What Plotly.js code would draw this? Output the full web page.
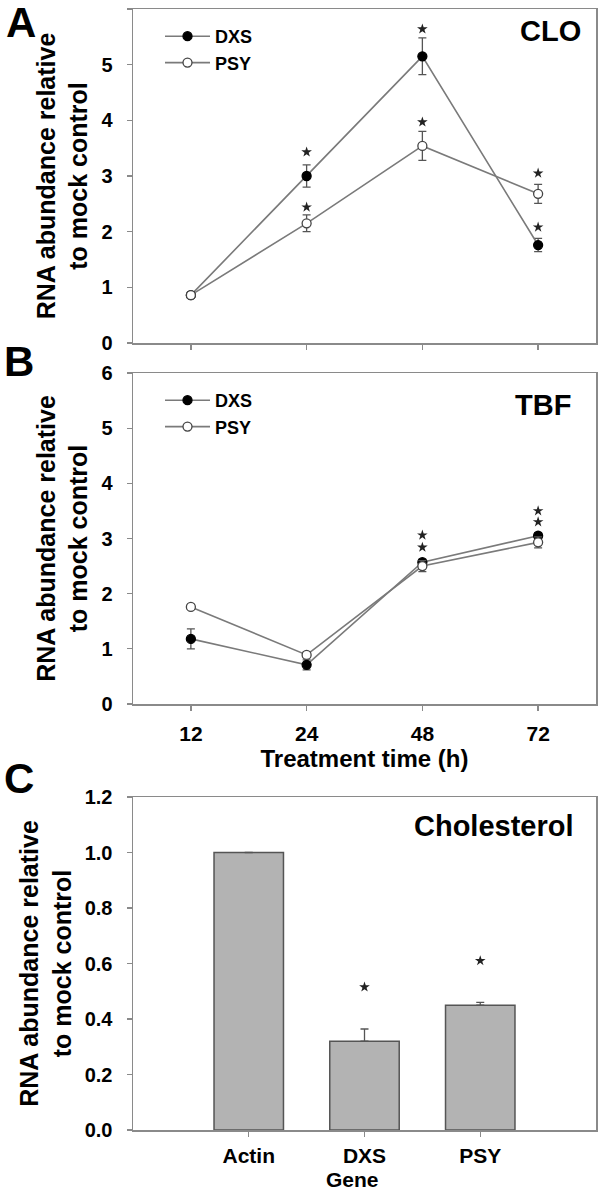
<!DOCTYPE html>
<html>
<head>
<meta charset="utf-8">
<script src="https://cdn.plot.ly/plotly-3.0.1.min.js"></script>
<style>html,body{margin:0;padding:0;background:#fff;}#chart{width:600px;height:1192px;}</style>
</head>
<body>
<div id="chart"></div>
<script>
// ---- data ----
const hours = ['12', '24', '48', '72'];

// Panel A (CLO)
const dxsA = [0.86, 3.00, 5.15, 1.76];
const dxsAErr = [0.05, 0.20, 0.33, 0.12];
const psyA = [0.86, 2.15, 3.54, 2.68];
const psyAErr = [0.05, 0.15, 0.26, 0.17];
const starsAx = ['24', '24', '48', '48', '72', '72'];
const starsAy = [3.43, 2.44, 5.64, 3.97, 3.05, 2.08];

// Panel B (TBF)
const dxsB = [1.18, 0.71, 2.57, 3.05];
const dxsBErr = [0.18, 0.09, 0.05, 0.05];
const psyB = [1.76, 0.89, 2.50, 2.93];
const psyBErr = [0.04, 0.05, 0.10, 0.10];
const starsBx = ['48', '48', '72', '72'];
const starsBy = [3.06, 2.84, 3.50, 3.30];

// Panel C (Cholesterol)
const genes = ['Actin', 'DXS', 'PSY'];
const cholVals = [1.00, 0.32, 0.45];
const cholErr = [null, 0.044, 0.01];
const starsCx = ['DXS', 'PSY'];
const starsCy = [0.515, 0.61];

// ---- styles ----
const FAM = 'Liberation Sans, Arial, Helvetica, sans-serif';
const LINEC = '#7a7a7a';
const AXC = '#8a8a8a';
const ERRC = '#555555';

function series(x, y, err, name, filled, xa, ya, leg) {
  return {
    x: x, y: y, type: 'scatter', mode: 'lines+markers', name: name,
    xaxis: xa, yaxis: ya, legend: leg, legendgroup: leg + name,
    line: {color: LINEC, width: 1.6},
    marker: {size: 9, color: filled ? '#000000' : '#ffffff',
             line: {color: filled ? '#000000' : '#444444', width: 1.3}},
    error_y: {type: 'data', array: err, visible: true, color: ERRC, thickness: 1.3, width: 4}
  };
}
function stars(x, y, xa, ya) {
  return {x: x, y: y, type: 'scatter', mode: 'markers', xaxis: xa, yaxis: ya, showlegend: false,
          marker: {symbol: 'star', size: 8, color: '#222222'}, hoverinfo: 'skip'};
}

const traces = [
  series(hours, dxsA, dxsAErr, 'DXS', true, 'x', 'y', 'legend'),
  series(hours, psyA, psyAErr, 'PSY', false, 'x', 'y', 'legend'),
  stars(starsAx, starsAy, 'x', 'y'),
  series(hours, dxsB, dxsBErr, 'DXS', true, 'x2', 'y2', 'legend2'),
  series(hours, psyB, psyBErr, 'PSY', false, 'x2', 'y2', 'legend2'),
  stars(starsBx, starsBy, 'x2', 'y2'),
  {x: genes, y: cholVals, type: 'bar', xaxis: 'x3', yaxis: 'y3', showlegend: false, width: 0.6,
   marker: {color: '#b3b3b3', line: {color: '#555555', width: 1.5}},
   error_y: {type: 'data', symmetric: false, array: cholErr, arrayminus: [0, 0, 0], visible: true,
             color: ERRC, thickness: 1.3, width: 4}},
  stars(starsCx, starsCy, 'x3', 'y3')
];

const tickFontY = {family: FAM, size: 20, color: '#000', weight: 'bold'};
const tickFontX = {family: FAM, size: 21, color: '#000', weight: 'bold'};
const ytitle = 'RNA abundance relative<br>to mock control';
const titleFont = {family: FAM, size: 25, color: '#000', weight: 'bold'};

function yax(domain, range, dtick, fmt, anchor) {
  return {domain: domain, range: range, dtick: dtick, tick0: 0, tickformat: fmt, anchor: anchor,
          showgrid: false, zeroline: false, showline: true, mirror: true, linecolor: AXC, linewidth: 1.5,
          ticks: 'outside', ticklen: 5, tickwidth: 1.3, tickcolor: AXC, ticklabelstandoff: 10,
          tickfont: tickFontY, title: {text: ytitle, font: titleFont, standoff: 6}};
}
function xax(domain, range, anchor, showLabels, standoff) {
  return {domain: domain, range: range, type: 'category', anchor: anchor,
          showgrid: false, zeroline: false, showline: true, mirror: true, linecolor: AXC, linewidth: 1.5,
          ticks: 'outside', ticklen: 5, tickwidth: 1.3, tickcolor: AXC, ticklabelstandoff: standoff,
          showticklabels: showLabels, tickfont: tickFontX};
}

const XD = [133 / 600, 596 / 600];
const legFont = {family: FAM, size: 18, color: '#000', weight: 'bold'};
const layout = {
  width: 600, height: 1192,
  margin: {l: 0, r: 0, t: 0, b: 0},
  paper_bgcolor: '#ffffff', plot_bgcolor: '#ffffff',
  showlegend: true,
  xaxis: xax(XD, [-0.5, 3.5], 'y', false, 5),
  yaxis: yax([1 - 343 / 1192, 1 - 9 / 1192], [0, 6], 1, 'd', 'x'),
  xaxis2: Object.assign(xax(XD, [-0.5, 3.5], 'y2', true, 5),
    {title: {text: 'Treatment time (h)', font: {family: FAM, size: 24, color: '#000', weight: 'bold'}, standoff: 0}}),
  yaxis2: yax([1 - 704 / 1192, 1 - 373 / 1192], [0, 6], 1, 'd', 'x2'),
  xaxis3: xax(XD, [-1, 3], 'y3', true, 1),
  yaxis3: yax([1 - 1130 / 1192, 1 - 797 / 1192], [0, 1.2], 0.2, '.1f', 'x3'),
  legend: {x: 160 / 600, y: 1 - 18 / 1192, xanchor: 'left', yanchor: 'top', bgcolor: 'rgba(0,0,0,0)',
           font: legFont, tracegroupgap: 0, traceorder: 'grouped', itemwidth: 45},
  legend2: {x: 160 / 600, y: 1 - 382 / 1192, xanchor: 'left', yanchor: 'top', bgcolor: 'rgba(0,0,0,0)',
            font: legFont, tracegroupgap: 0, traceorder: 'grouped', itemwidth: 45},
  annotations: [
    {text: 'A', x: 21 / 600, y: 1 - 23 / 1192},
    {text: 'B', x: 19 / 600, y: 1 - 362 / 1192},
    {text: 'C', x: 19 / 600, y: 1 - 778 / 1192},
  ].map(a => Object.assign(a, {xref: 'paper', yref: 'paper', showarrow: false, xanchor: 'center', yanchor: 'middle',
       font: {family: FAM, size: 42, color: '#000', weight: 'bold'}})).concat([
    {text: 'CLO', x: 550 / 600, y: 1 - 31 / 1192, size: 29},
    {text: 'TBF', x: 543 / 600, y: 1 - 405 / 1192, size: 29},
    {text: 'Cholesterol', x: 494 / 600, y: 1 - 826 / 1192, size: 29},
    {text: 'Gene', x: 352 / 600, y: 1 - 1179 / 1192, size: 21}
  ].map(a => ({text: a.text, x: a.x, y: a.y, xref: 'paper', yref: 'paper', showarrow: false, borderpad: 0,
       xanchor: 'center', yanchor: 'middle', font: {family: FAM, size: a.size, color: '#000', weight: 'bold'}})))
};

Plotly.newPlot('chart', traces, layout, {displayModeBar: false, staticPlot: true});
</script>
</body>
</html>
